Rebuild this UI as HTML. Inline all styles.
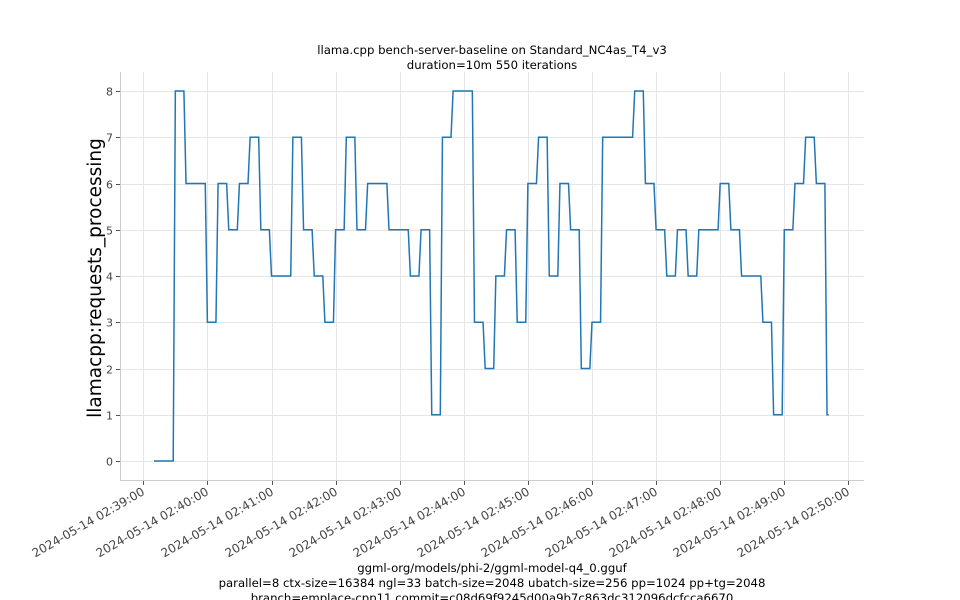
<!DOCTYPE html>
<html><head><meta charset="utf-8">
<style>
html,body{margin:0;padding:0;background:#fff;}
svg{display:block;font-family:"DejaVu Sans","Liberation Sans",sans-serif;}
</style></head>
<body>
<svg id="chart" width="960" height="600" viewBox="0 0 960 600" xmlns="http://www.w3.org/2000/svg">
  <text x="492" y="54" font-size="11.7" text-anchor="middle" fill="#000">llama.cpp bench-server-baseline on Standard_NC4as_T4_v3</text>
  <text x="492" y="69" font-size="11.7" text-anchor="middle" fill="#000">duration=10m 550 iterations</text>
  <g id="grid"></g>
  <g id="axes">
    <line x1="120.5" y1="72" x2="120.5" y2="480.5" stroke="#cccccc" stroke-width="1"/>
    <line x1="120" y1="480.5" x2="864" y2="480.5" stroke="#cccccc" stroke-width="1"/>
  </g>
  <g id="yticks"></g>
  <g id="xticks"></g>
  <path id="series" fill="none" stroke="#1f77b4" stroke-width="1.5" stroke-linejoin="miter"/>
  <text transform="translate(101,278) rotate(-90)" font-size="18.5" text-anchor="middle" fill="#000">llamacpp:requests_processing</text>
  <text x="492" y="572" font-size="11.7" text-anchor="middle" fill="#000">ggml-org/models/phi-2/ggml-model-q4_0.gguf</text>
  <text x="492" y="587" font-size="11.7" text-anchor="middle" fill="#000">parallel=8 ctx-size=16384 ngl=33 batch-size=2048 ubatch-size=256 pp=1024 pp+tg=2048</text>
  <text x="492" y="602" font-size="11.7" text-anchor="middle" fill="#000">branch=emplace-cpp11 commit=c08d69f9245d00a9b7c863dc312096dcfcca6670</text>
</svg>
<script>
// seconds after 2024-05-14 02:39:00
const sampleTimes = [10,20,30,40,50,60,70,80,90,100,110,120,130,140,150,160,170,180,190,200,210,220,230,240,250,260,270,280,290,300,310,320,330,340,350,360,370,380,390,400,410,420,430,440,450,460,470,480,490,500,510,520,530,540,550,560,570,580,590,600,610,620,630,640];
const requestsValues = [0,0,8,6,6,3,6,5,6,7,5,4,4,7,5,4,3,5,7,5,6,6,5,5,4,5,1,7,8,8,3,2,4,5,3,6,7,4,6,5,2,3,7,7,7,8,6,5,4,5,4,5,5,6,5,4,4,3,1,5,6,7,6,1];
const yTicks = [0,1,2,3,4,5,6,7,8];
const xTickMinutes = [0,1,2,3,4,5,6,7,8,9,10,11];
const xTickLabels = ["2024-05-14 02:39:00","2024-05-14 02:40:00","2024-05-14 02:41:00","2024-05-14 02:42:00","2024-05-14 02:43:00","2024-05-14 02:44:00","2024-05-14 02:45:00","2024-05-14 02:46:00","2024-05-14 02:47:00","2024-05-14 02:48:00","2024-05-14 02:49:00","2024-05-14 02:50:00"];

const NS = "http://www.w3.org/2000/svg";
function xScale(sec){ return 143.3 + sec * (64.1/60); }
function yScale(v){ return 461 - v * 46.25; }

const grid = document.getElementById('grid');
const yt = document.getElementById('yticks');
const xt = document.getElementById('xticks');

yTicks.forEach(function(v){
  const y = Math.round(yScale(v)) + 0.5;
  const g = document.createElementNS(NS,'line');
  
  
  g.setAttribute('x1',121); g.setAttribute('x2',864);
  g.setAttribute('y1',y); g.setAttribute('y2',y);
  g.setAttribute('stroke','#e6e6e6'); g.setAttribute('stroke-width','1');
  grid.appendChild(g);
  const t = document.createElementNS(NS,'line');
  
  
  t.setAttribute('x1',116); t.setAttribute('x2',120);
  t.setAttribute('y1',y); t.setAttribute('y2',y);
  t.setAttribute('stroke','#555'); t.setAttribute('stroke-width','1');
  yt.appendChild(t);
  const l = document.createElementNS(NS,'text');
  
  
  l.setAttribute('x',113); l.setAttribute('y',y+4);
  l.setAttribute('font-size','11'); l.setAttribute('text-anchor','end'); l.setAttribute('fill','#444');
  l.textContent = String(v);
  yt.appendChild(l);
});

xTickMinutes.forEach(function(m,i){
  const x = Math.round(xScale(m*60)) + 0.5;
  const g = document.createElementNS(NS,'line');
  
  
  g.setAttribute('x1',x); g.setAttribute('x2',x);
  g.setAttribute('y1',72); g.setAttribute('y2',480);
  g.setAttribute('stroke','#e6e6e6'); g.setAttribute('stroke-width','1');
  grid.appendChild(g);
  const t = document.createElementNS(NS,'line');
  
  
  t.setAttribute('x1',x); t.setAttribute('x2',x);
  t.setAttribute('y1',481); t.setAttribute('y2',485);
  t.setAttribute('stroke','#555'); t.setAttribute('stroke-width','1');
  xt.appendChild(t);
  const l = document.createElementNS(NS,'text');
  
  
  l.setAttribute('transform','translate('+(x+2)+',494) rotate(-30)');
  l.setAttribute('font-size','12'); l.setAttribute('text-anchor','end'); l.setAttribute('fill','#444');
  l.textContent = xTickLabels[i];
  xt.appendChild(l);
});

let d = '';
sampleTimes.forEach(function(t,i){
  const v = requestsValues[i];
  const hold = (i === sampleTimes.length-1) ? 1.6 : 8;
  const x1 = xScale(t), x2 = xScale(t+hold), y = yScale(v);
  d += (i===0 ? 'M' : 'L') + x1.toFixed(2) + ',' + y.toFixed(2) + ' L' + x2.toFixed(2) + ',' + y.toFixed(2) + ' ';
});
document.getElementById('series').setAttribute('d', d);
</script>
</body></html>
